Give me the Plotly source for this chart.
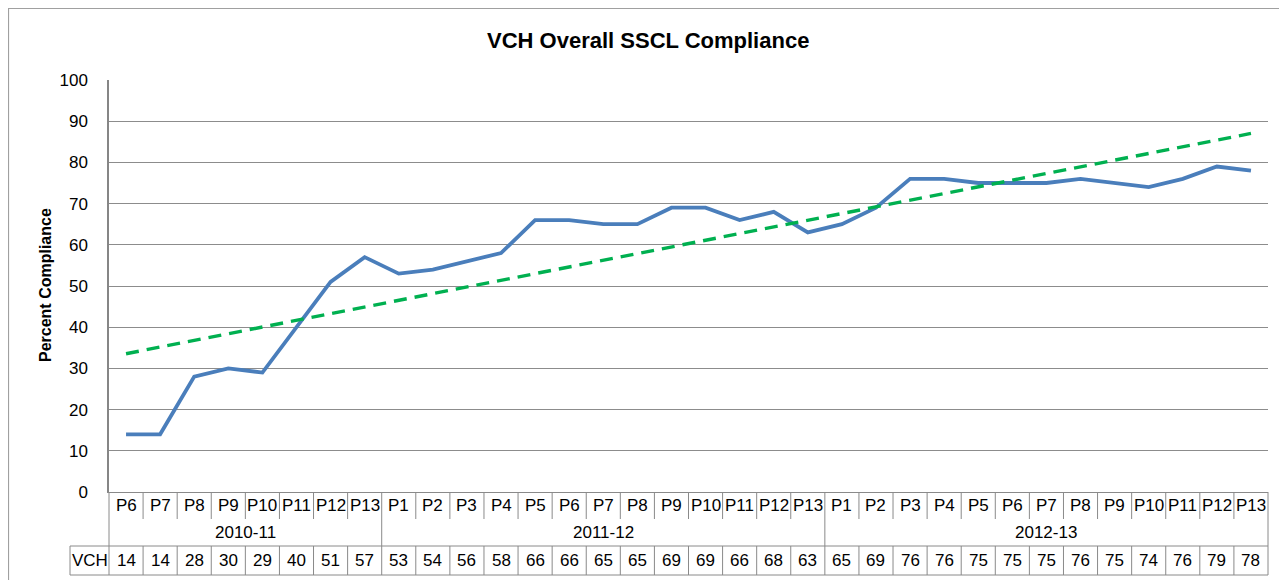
import numpy as np
import plotly.graph_objects as go

# ---------------- data ----------------
years = ["2010-11", "2011-12", "2012-13"]
year_periods = [
    ["P6", "P7", "P8", "P9", "P10", "P11", "P12", "P13"],
    ["P1", "P2", "P3", "P4", "P5", "P6", "P7", "P8", "P9", "P10", "P11", "P12", "P13"],
    ["P1", "P2", "P3", "P4", "P5", "P6", "P7", "P8", "P9", "P10", "P11", "P12", "P13"],
]
vch = [14, 14, 28, 30, 29, 40, 51, 57,
       53, 54, 56, 58, 66, 66, 65, 65, 69, 69, 66, 68, 63,
       65, 69, 76, 76, 75, 75, 75, 76, 75, 74, 76, 79, 78]
series_name = "VCH"
title = "VCH Overall SSCL Compliance"
y_title = "Percent Compliance"
y_ticks = [0, 10, 20, 30, 40, 50, 60, 70, 80, 90, 100]

periods = [p for ps in year_periods for p in ps]
n = len(periods)
x_idx = list(range(n))

# linear trendline (as Excel's linear trendline)
slope, intercept = np.polyfit(x_idx, vch, 1)
trend = [slope * i + intercept for i in x_idx]

# ---------------- layout geometry (screen pixels) ----------------
W, H = 1287, 580
OFF = 8  # page body margin
L, R, T, B = 109, 1268, 80, 492
PW, PH = R - L, B - T

def px(xp):
    return (xp - L) / PW

def py(yp):
    return (B - yp) / PH

ROW1_BOT = 519
ROW2_BOT = 546
ROW3_BOT = 575
LABEL_LEFT = 70

GRID = "#8C8C8C"
TBL = "#8A8A8A"
FONT = "Liberation Sans"

fig = go.Figure()
fig.add_trace(go.Scatter(
    x=x_idx, y=vch, mode="lines", name=series_name,
    line=dict(color="#4A7EBB", width=3.8), showlegend=False,
))
fig.add_trace(go.Scatter(
    x=x_idx, y=trend, mode="lines", name="Linear (VCH)",
    line=dict(color="#00B050", width=3.4, dash="13px,8px"), showlegend=False,
))

shapes = []
ann = []

def vline(xp_paper, y0p, y1p):
    shapes.append(dict(type="line", xref="paper", yref="paper",
                       x0=xp_paper, x1=xp_paper, y0=py(y0p), y1=py(y1p),
                       line=dict(color=TBL, width=1)))

def hline(x0p, x1p, yp):
    shapes.append(dict(type="line", xref="paper", yref="paper",
                       x0=x0p, x1=x1p, y0=py(yp), y1=py(yp),
                       line=dict(color=TBL, width=1)))

# period row dividers
for i in range(n + 1):
    vline(i / n, B, ROW1_BOT)
# year row dividers
bounds = [0]
for ps in year_periods:
    bounds.append(bounds[-1] + len(ps))
for b in bounds:
    vline(b / n, ROW1_BOT, ROW2_BOT)
# value row
hline(px(LABEL_LEFT), 1, ROW2_BOT)
hline(px(LABEL_LEFT), 1, ROW3_BOT)
vline(px(LABEL_LEFT), ROW2_BOT, ROW3_BOT)
for i in range(n + 1):
    vline(i / n, ROW2_BOT, ROW3_BOT)

# outer chart border
shapes.append(dict(type="rect", xref="paper", yref="paper",
                   x0=px(8.5), x1=px(1320), y0=py(620), y1=py(8.5),
                   line=dict(color="#A0A0A0", width=1.2), layer="below"))

tfont = dict(family=FONT, size=17, color="#000000")
for i, p in enumerate(periods):
    ann.append(dict(xref="paper", yref="paper", x=(i + 0.5) / n, y=py((B + ROW1_BOT) / 2),
                    text=p, showarrow=False, font=tfont, xanchor="center", yanchor="middle"))
    ann.append(dict(xref="paper", yref="paper", x=(i + 0.5) / n, y=py((ROW2_BOT + ROW3_BOT) / 2),
                    text=str(vch[i]), showarrow=False, font=tfont, xanchor="center", yanchor="middle"))
for k, yname in enumerate(years):
    c = (bounds[k] + bounds[k + 1]) / 2 / n
    ann.append(dict(xref="paper", yref="paper", x=c, y=py((ROW1_BOT + ROW2_BOT) / 2),
                    text=yname, showarrow=False, font=tfont, xanchor="center", yanchor="middle"))
ann.append(dict(xref="paper", yref="paper", x=px((LABEL_LEFT + L) / 2), y=py((ROW2_BOT + ROW3_BOT) / 2),
                text=series_name, showarrow=False, font=tfont, xanchor="center", yanchor="middle"))
# y axis title
ann.append(dict(xref="paper", yref="paper", x=px(45), y=py(285), text="<b>" + y_title + "</b>",
                showarrow=False, textangle=-90, font=dict(family=FONT, size=16, color="#000"),
                xanchor="center", yanchor="middle"))
# title
ann.append(dict(xref="paper", yref="paper", x=px(648), y=py(41), text="<b>" + title + "</b>",
                showarrow=False, font=dict(family=FONT, size=22, color="#000"),
                xanchor="center", yanchor="middle"))

fig.update_layout(
    width=W, height=H,
    margin=dict(l=L - OFF, r=W - (R - OFF), t=T - OFF, b=H - (B - OFF), pad=0),
    paper_bgcolor="white", plot_bgcolor="white",
    shapes=shapes, annotations=ann,
    xaxis=dict(range=[-0.5, n - 0.5], showticklabels=False, showgrid=False, zeroline=False,
               showline=True, linecolor=TBL, linewidth=1, ticks="", fixedrange=True),
    yaxis=dict(range=[0, 100], tickvals=y_ticks, showgrid=True, gridcolor=GRID, gridwidth=1,
               zeroline=False, showline=True, linecolor="#868686", linewidth=1.5,
               ticks="", ticklabelstandoff=16,
               tickfont=dict(family=FONT, size=17, color="#000")),
    showlegend=False,
)

fig.write_html("out.html")
